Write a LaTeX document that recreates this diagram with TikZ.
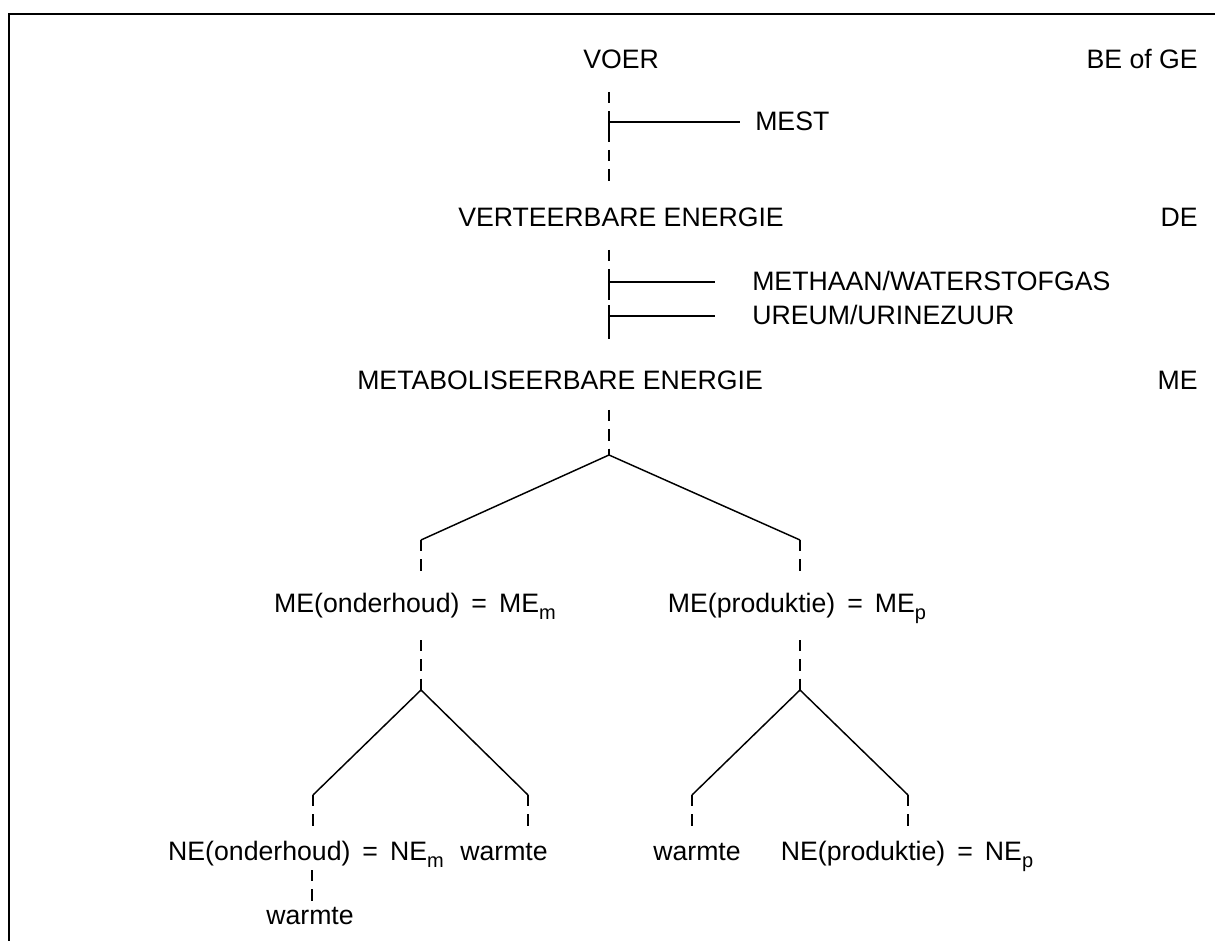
\documentclass[tikz,border=0pt]{standalone}
\usepackage{fontspec}
\setmainfont{Liberation Sans}
\begin{document}
\begin{tikzpicture}[x=0.75pt,y=-0.75pt,
  font=\fontsize{20}{23}\selectfont,
  lbl/.style={inner sep=0pt, anchor=base},
  lblw/.style={inner sep=0pt, anchor=base west},
  lble/.style={inner sep=0pt, anchor=base east},
  dsh/.style={line width=1pt, dash pattern=on 8.5pt off 6pt},
  sol/.style={line width=1.1pt},
  frame/.style={line width=2.2pt}]
\useasboundingbox (0,0) rectangle (1215,941);
\newcommand{\sub}[1]{\raisebox{-0.55ex}{\fontsize{15}{15}\selectfont #1}}
\newcommand{\eqs}{\hspace{0.45em}=\hspace{0.45em}}
% frame
\draw[frame] (9,941) -- (9,14) -- (1215,14);
% labels
\node[lblw] (voer) at (583,69) {VOER};
\node[lble] (bege) at (1198,69) {BE of GE};
\node[lblw] (mest) at (755,131) {MEST};
\node[lblw] (ve) at (458,227) {VERTEERBARE ENERGIE};
\node[lble] (de) at (1198,227) {DE};
\node[lblw] (meth) at (752,291) {METHAAN/WATERSTOFGAS};
\node[lblw] (ureum) at (752,325) {UREUM/URINEZUUR};
\node[lblw] (me) at (357,390) {METABOLISEERBARE ENERGIE};
\node[lble] (mer) at (1198,390) {ME};
\node[lbl] (mem) at (415,612) {ME(onderhoud)\eqs ME\sub{m}};
\node[lbl] (mep) at (797,612) {ME(produktie)\eqs ME\sub{p}};
\node[lbl] (nem) at (306,860) {NE(onderhoud)\eqs NE\sub{m}};
\node[lbl] (w1) at (504,860) {warmte};
\node[lbl] (w2) at (697,860) {warmte};
\node[lbl] (nep) at (907,860) {NE(produktie)\eqs NE\sub{p}};
\node[lbl] (w3) at (310,924) {warmte};
% coordinates
\coordinate (a1) at (609,92);
\coordinate (a2) at (609,188);
\coordinate (j1) at (609,122);
\coordinate (b1) at (609,250);
\coordinate (b2) at (609,345);
\coordinate (j2) at (609,282);
\coordinate (j3) at (609,316);
\coordinate (c1) at (609,410);
\coordinate (apex) at (609,455);
\coordinate (l1) at (421,540);
\coordinate (l2) at (421,572);
\coordinate (r1) at (800,540);
\coordinate (r2) at (800,572);
\coordinate (lm1) at (421,640);
\coordinate (lapex) at (421,690);
\coordinate (ll1) at (313,795);
\coordinate (ll2) at (313,830);
\coordinate (lr1) at (528,795);
\coordinate (lr2) at (528,830);
\coordinate (rm1) at (800,640);
\coordinate (rapex) at (800,690);
\coordinate (rl1) at (692,795);
\coordinate (rl2) at (692,830);
\coordinate (rr1) at (908,795);
\coordinate (rr2) at (908,830);
\coordinate (n1) at (312,870);
\coordinate (n2) at (312,905);
\coordinate (mestend) at (740,122);
\coordinate (methend) at (715,282);
\coordinate (ureumend) at (715,316);
% trunk
\draw[dsh] (a1) -- (a2);
\draw[sol] ([yshift=-8]j1) -- ([yshift=8]j1);
\draw[sol] (j1) -- (mestend);
\draw[dsh] (b1) -- (b2);
\draw[sol] ([yshift=-8]j2) -- ([yshift=8]j2);
\draw[sol] ([yshift=-8]j3) -- ([yshift=8]j3);
\draw[sol] (j2) -- (methend);
\draw[sol] (j3) -- (ureumend);
\draw[dsh] (c1) -- (apex);
% first split
\draw[sol] (l1) -- (apex) -- (r1);
\draw[dsh] (l1) -- (l2);
\draw[dsh] (r1) -- (r2);
% second splits
\draw[dsh] (lm1) -- (lapex);
\draw[sol] (ll1) -- (lapex) -- (lr1);
\draw[dsh] (ll1) -- (ll2);
\draw[dsh] (lr1) -- (lr2);
\draw[dsh] (rm1) -- (rapex);
\draw[sol] (rl1) -- (rapex) -- (rr1);
\draw[dsh] (rl1) -- (rl2);
\draw[dsh] (rr1) -- (rr2);
\draw[dsh] (n1) -- (n2);
\end{tikzpicture}
\end{document}
